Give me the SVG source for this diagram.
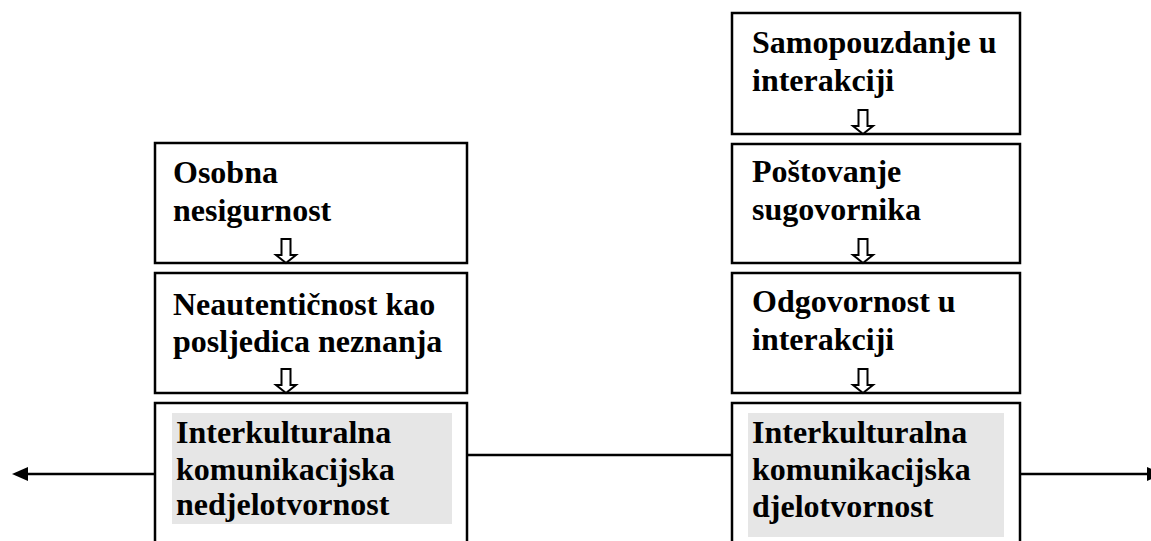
<svg xmlns="http://www.w3.org/2000/svg" width="1151" height="541" viewBox="0 0 1151 541">
<style>
.box{fill:#fff;stroke:#000;stroke-width:2.5}
.hl{fill:#e6e6e6;stroke:none}
.t{font-family:"Liberation Serif","Times New Roman",serif;font-weight:bold;font-size:32px;fill:#000}
.da{fill:#fff;stroke:#000;stroke-width:2;stroke-linejoin:miter}
.ln{stroke:#000;stroke-width:2.5;fill:none}
</style>
<defs>
<path id="downArrow" class="da" d="M-4.5,0 H4.5 V16 H10 L0,24 L-10,16 H-4.5 Z"/>
</defs>
<rect width="1151" height="541" fill="#fff"/>
<g id="connectors">
<line class="ln" x1="467" y1="455" x2="732" y2="455"/>
<line class="ln" x1="155" y1="474" x2="25" y2="474"/>
<polygon points="12,474 28,467 28,481" fill="#000"/>
<line class="ln" x1="1020" y1="474" x2="1150" y2="474"/>
<polygon points="1147,467 1163,474 1147,481" fill="#000"/>
</g>
<g id="node-osobna">
<rect class="box" x="155" y="143" width="312" height="120"/>
<text class="t" x="173" y="183">Osobna</text>
<text class="t" x="173" y="221">nesigurnost</text>
<use href="#downArrow" x="286" y="239"/>
</g>
<g id="node-neautenticnost">
<rect class="box" x="155" y="273" width="312" height="120"/>
<text class="t" x="173" y="315">Neautentičnost kao</text>
<text class="t" x="173" y="352">posljedica neznanja</text>
<use href="#downArrow" x="286" y="369"/>
</g>
<g id="node-nedjelotvornost">
<rect class="box" x="155" y="403" width="312" height="160"/>
<rect class="hl" x="172" y="413" width="280" height="111"/>
<text class="t" x="176" y="443">Interkulturalna</text>
<text class="t" x="176" y="480">komunikacijska</text>
<text class="t" x="176" y="515">nedjelotvornost</text>
</g>
<g id="node-samopouzdanje">
<rect class="box" x="732" y="13" width="288" height="121"/>
<text class="t" x="752" y="53">Samopouzdanje u</text>
<text class="t" x="752" y="91">interakciji</text>
<use href="#downArrow" x="863" y="110"/>
</g>
<g id="node-postovanje">
<rect class="box" x="732" y="144" width="288" height="119"/>
<text class="t" x="752" y="182">Poštovanje</text>
<text class="t" x="752" y="220">sugovornika</text>
<use href="#downArrow" x="863" y="239"/>
</g>
<g id="node-odgovornost">
<rect class="box" x="732" y="273" width="288" height="120"/>
<text class="t" x="752" y="312">Odgovornost u</text>
<text class="t" x="752" y="350">interakciji</text>
<use href="#downArrow" x="863" y="369"/>
</g>
<g id="node-djelotvornost">
<rect class="box" x="732" y="403" width="288" height="160"/>
<rect class="hl" x="748" y="413" width="256" height="124"/>
<text class="t" x="752" y="443">Interkulturalna</text>
<text class="t" x="752" y="480">komunikacijska</text>
<text class="t" x="752" y="517">djelotvornost</text>
</g>
</svg>
